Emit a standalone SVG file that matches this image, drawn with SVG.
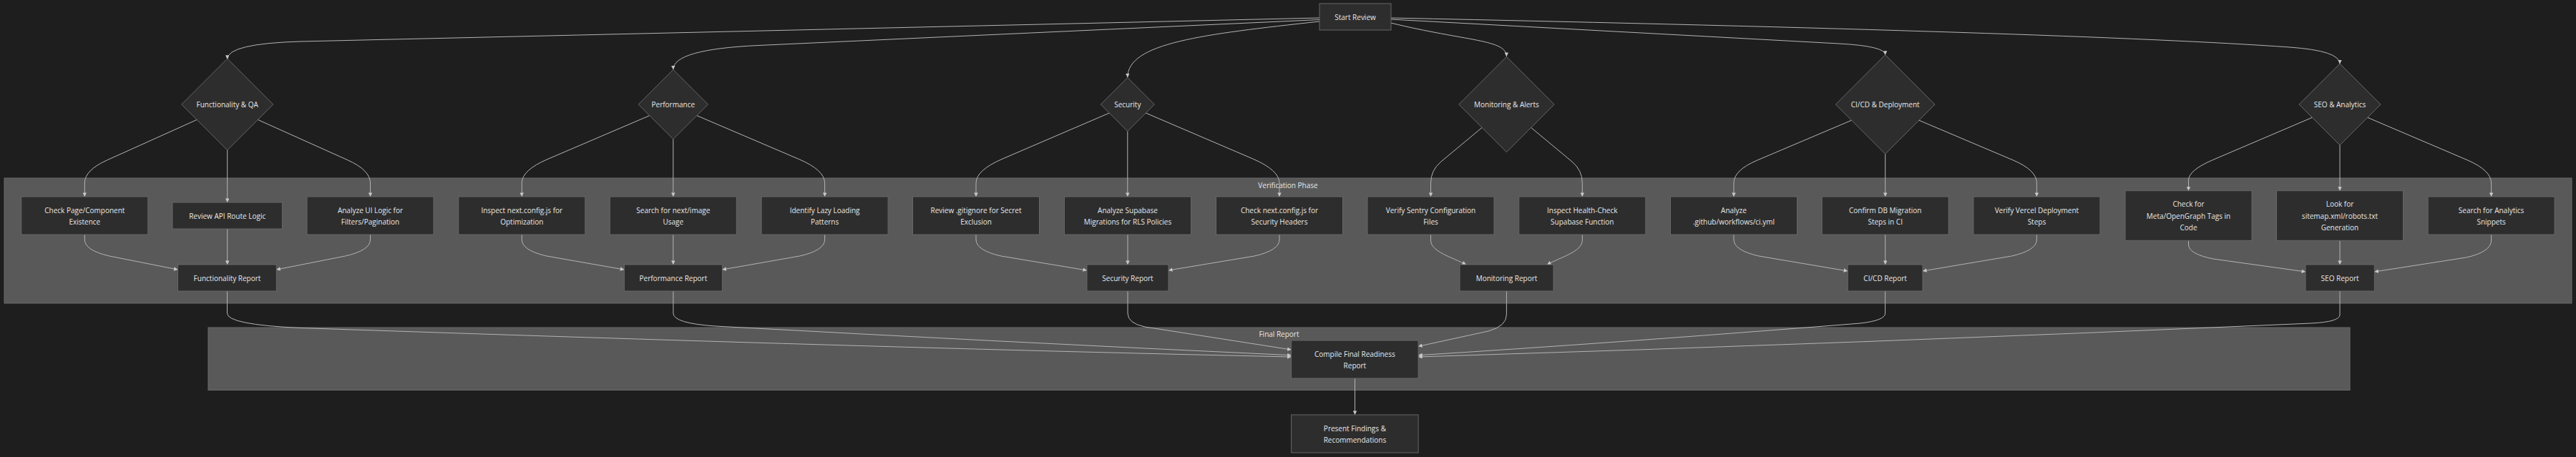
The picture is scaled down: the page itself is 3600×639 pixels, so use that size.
<svg xmlns="http://www.w3.org/2000/svg" width="3600" height="639" viewBox="0 0 3600 639">
<defs>
<marker id="arr" viewBox="0 0 10 10" refX="10" refY="5" markerUnits="userSpaceOnUse" markerWidth="6" markerHeight="5.5" orient="auto">
<path d="M0,0 L10,5 L0,10 z" fill="#c8c8c8"/>
</marker>
<style>
.bg{fill:#1e1e1e}
.cluster rect{fill:#595959;stroke:#6a6a6a;stroke-width:1}
.node rect,.node polygon{fill:#2d2d2d;stroke:#676767;stroke-width:1}
text{font-family:"Open Sans","Liberation Sans",sans-serif;font-size:10px;fill:#e8e8e8;text-anchor:middle;dominant-baseline:central}
.edges path{fill:none;stroke:#b4b4b4;stroke-width:1;marker-end:url(#arr)}
</style>
</defs>
<rect class="bg" x="0" y="0" width="3600" height="639"/>
<g id="cluster-verification" class="cluster"><rect x="6" y="249" width="3588" height="175"/><text x="1800" y="258.5">Verification Phase</text></g>
<g id="cluster-final" class="cluster"><rect x="291" y="458" width="2993" height="87.5"/><text x="1787.5" y="467">Final Report</text></g>

<g class="edges" id="connectors">
<path d="M1844,25 L420,58 Q317.7,61 317.7,82.7"/>
<path d="M1844,27.5 L1060,63.5 Q940.8,69 940.8,97.3"/>
<path d="M1844,30 C1680,48 1575.8,60 1575.8,108.3"/>
<path d="M1943.5,32 C2050,58 2105.4,55 2105.4,79"/>
<path d="M1943.5,27 L2570,61 Q2634.7,64.5 2634.7,76.7"/>
<path d="M1943.5,25 Q2900,45 3200,66 Q3270,71 3270,89.3"/>

<path d="M275.1,167.4 L149.7,223.9 Q118.3,238 118.3,256 L118.3,275"/>
<path d="M317.7,210 L317.7,283"/>
<path d="M360.4,167.4 L486.1,223.9 Q517.5,238 517.5,256 L517.5,275"/>
<path d="M907.8,161.6 L765,222.7 Q729.3,238 729.3,256 L729.3,275"/>
<path d="M940.8,194.6 L940.8,275"/>
<path d="M973.8,161.6 L1116.8,222.7 Q1152.6,238 1152.6,256 L1152.6,275"/>
<path d="M1550.3,158 L1401.3,222 Q1364,238 1364,256 L1364,275"/>
<path d="M1575.8,183.5 L1575.8,275"/>
<path d="M1601.3,158 L1750.7,222 Q1788,238 1788,256 L1788,275"/>
<path d="M2071.1,178.4 L2013.8,226.1 Q1999.5,238 1999.5,256 L1999.5,275"/>
<path d="M2139.7,178.4 L2197,226.1 Q2211.3,238 2211.3,256 L2211.3,275"/>
<path d="M2587.6,168.2 L2455.9,224 Q2423,238 2423,256 L2423,275"/>
<path d="M2634.7,215.3 L2634.7,275"/>
<path d="M2681.8,168.2 L2813.5,224 Q2846.4,238 2846.4,256 L2846.4,275"/>
<path d="M3231.3,164.3 L3093.1,223.3 Q3058.5,238 3058.5,252 L3058.5,266.7"/>
<path d="M3270,203 L3270,266.7"/>
<path d="M3308.7,164.3 L3447,223.3 Q3481.6,238 3481.6,256 L3481.6,275"/>

<path d="M118.3,328 L118.3,335 Q118.3,350 153,358 L248.6,377"/>
<path d="M317.7,320 L317.7,370"/>
<path d="M517.5,328 L517.5,335 Q517.5,350 482.5,358 L386.3,377"/>
<path d="M729.3,328 L729.3,335 Q729.3,350 764,358 L872.4,377"/>
<path d="M940.8,328 L940.8,370"/>
<path d="M1152.6,328 L1152.6,335 Q1152.6,350 1117.6,358 L1009.4,377"/>
<path d="M1364,328 L1364,335 Q1364,350 1399,358 L1519,378"/>
<path d="M1576,328 L1576,370"/>
<path d="M1788,328 L1788,335 Q1788,350 1753,358 L1633,378"/>
<path d="M1999.5,328 L1999.5,336 C1999.5,352 2030,360 2049,370"/>
<path d="M2211.3,328 L2211.3,336 C2211.3,352 2180,360 2162,370"/>
<path d="M2423,328 L2423,335 Q2423,350 2458,358 L2582.2,379"/>
<path d="M2634.7,328 L2634.7,370"/>
<path d="M2846.4,328 L2846.4,335 Q2846.4,350 2811.4,358 L2687,379"/>
<path d="M3058.5,336.3 L3058.5,342 Q3058.5,355 3093,362 L3222,380"/>
<path d="M3270,336.3 L3270,370"/>
<path d="M3481.6,328 L3481.6,336 Q3481.6,352 3446.6,360 L3318.3,380"/>

<path d="M317.5,407 L317.5,438 Q317.5,454 420,458.5 Q1250,487 1804.6,499"/>
<path d="M940.9,407 L940.9,438 Q940.9,452 1000,456 Q1400,478 1804.6,496.7"/>
<path d="M1576,407 L1576,438 Q1576,452 1600,457 L1804.6,489"/>
<path d="M2105.4,407 L2105.4,440 Q2105.4,456 2080,463 L1982.1,484.3"/>
<path d="M2634.6,407 L2634.6,438 Q2634.6,448 2600,452 Q2250,480 1982.1,496.7"/>
<path d="M3270,407 L3270,440 Q3270,450 3230,452 Q2600,480 1982.1,499"/>
<path d="M1893.5,529 L1893.5,580"/>
</g>

<g id="start" class="node"><rect x="1844" y="5" width="100" height="37"/><text x="1894" y="23.5">Start Review</text></g>

<g id="d-func" class="node"><polygon points="317.7,82 381.7,146 317.7,210 253.7,146"/><text x="317.7" y="146">Functionality &amp; QA</text></g>
<g id="d-perf" class="node"><polygon points="940.8,97.4 989.4,146 940.8,194.6 892.2,146"/><text x="940.8" y="146">Performance</text></g>
<g id="d-sec" class="node"><polygon points="1575.8,108.5 1613.3,146 1575.8,183.5 1538.3,146"/><text x="1575.8" y="146">Security</text></g>
<g id="d-mon" class="node"><polygon points="2105.4,79.3 2172.1,146 2105.4,212.7 2038.7,146"/><text x="2105.4" y="146">Monitoring &amp; Alerts</text></g>
<g id="d-cicd" class="node"><polygon points="2634.7,76.7 2704,146 2634.7,215.3 2565.4,146"/><text x="2634.7" y="146">CI/CD &amp; Deployment</text></g>
<g id="d-seo" class="node"><polygon points="3270,89 3327,146 3270,203 3213,146"/><text x="3270" y="146">SEO &amp; Analytics</text></g>

<g id="n-checkpage" class="node"><rect x="29.8" y="275" width="177" height="53"/><text x="118.3" y="294">Check Page/Component</text><text x="118.3" y="310">Existence</text></g>
<g id="n-reviewapi" class="node"><rect x="241" y="283" width="153.4" height="37"/><text x="317.7" y="302">Review API Route Logic</text></g>
<g id="n-analyzeui" class="node"><rect x="429" y="275" width="177" height="53"/><text x="517.5" y="294">Analyze UI Logic for</text><text x="517.5" y="310">Filters/Pagination</text></g>
<g id="n-inspectnext" class="node"><rect x="640.8" y="275" width="177" height="53"/><text x="729.3" y="294">Inspect next.config.js for</text><text x="729.3" y="310">Optimization</text></g>
<g id="n-nextimage" class="node"><rect x="852.3" y="275" width="177" height="53"/><text x="940.8" y="294">Search for next/image</text><text x="940.8" y="310">Usage</text></g>
<g id="n-lazy" class="node"><rect x="1064.1" y="275" width="177" height="53"/><text x="1152.6" y="294">Identify Lazy Loading</text><text x="1152.6" y="310">Patterns</text></g>
<g id="n-gitignore" class="node"><rect x="1275.5" y="275" width="177" height="53"/><text x="1364" y="294">Review .gitignore for Secret</text><text x="1364" y="310">Exclusion</text></g>
<g id="n-supabase" class="node"><rect x="1487.5" y="275" width="177" height="53"/><text x="1576" y="294">Analyze Supabase</text><text x="1576" y="310">Migrations for RLS Policies</text></g>
<g id="n-headers" class="node"><rect x="1699.5" y="275" width="177" height="53"/><text x="1788" y="294">Check next.config.js for</text><text x="1788" y="310">Security Headers</text></g>
<g id="n-sentry" class="node"><rect x="1911" y="275" width="177" height="53"/><text x="1999.5" y="294">Verify Sentry Configuration</text><text x="1999.5" y="310">Files</text></g>
<g id="n-health" class="node"><rect x="2122.8" y="275" width="177" height="53"/><text x="2211.3" y="294">Inspect Health-Check</text><text x="2211.3" y="310">Supabase Function</text></g>
<g id="n-ciyml" class="node"><rect x="2334.5" y="275" width="177" height="53"/><text x="2423" y="294">Analyze</text><text x="2423" y="310">.github/workflows/ci.yml</text></g>
<g id="n-dbmig" class="node"><rect x="2546.2" y="275" width="177" height="53"/><text x="2634.7" y="294">Confirm DB Migration</text><text x="2634.7" y="310">Steps in CI</text></g>
<g id="n-vercel" class="node"><rect x="2757.9" y="275" width="177" height="53"/><text x="2846.4" y="294">Verify Vercel Deployment</text><text x="2846.4" y="310">Steps</text></g>
<g id="n-meta" class="node"><rect x="2970" y="266.7" width="177" height="69.6"/><text x="3058.5" y="285">Check for</text><text x="3058.5" y="301.5">Meta/OpenGraph Tags in</text><text x="3058.5" y="318">Code</text></g>
<g id="n-sitemap" class="node"><rect x="3181.5" y="266.7" width="177" height="69.6"/><text x="3270" y="285">Look for</text><text x="3270" y="301.5">sitemap.xml/robots.txt</text><text x="3270" y="318">Generation</text></g>
<g id="n-analytics" class="node"><rect x="3393.1" y="275" width="177" height="53"/><text x="3481.6" y="294">Search for Analytics</text><text x="3481.6" y="310">Snippets</text></g>

<g id="r-func" class="node"><rect x="248.6" y="370" width="137.7" height="37"/><text x="317.5" y="388.5">Functionality Report</text></g>
<g id="r-perf" class="node"><rect x="872.4" y="370" width="137" height="37"/><text x="940.9" y="388.5">Performance Report</text></g>
<g id="r-sec" class="node"><rect x="1519" y="370" width="114" height="37"/><text x="1576" y="388.5">Security Report</text></g>
<g id="r-mon" class="node"><rect x="2040" y="370" width="131" height="37"/><text x="2105.5" y="388.5">Monitoring Report</text></g>
<g id="r-cicd" class="node"><rect x="2582.2" y="370" width="104.8" height="37"/><text x="2634.6" y="388.5">CI/CD Report</text></g>
<g id="r-seo" class="node"><rect x="3222" y="370" width="96.3" height="37"/><text x="3270.1" y="388.5">SEO Report</text></g>

<g id="compile" class="node"><rect x="1804.6" y="476" width="177.5" height="53"/><text x="1893.4" y="494.5">Compile Final Readiness</text><text x="1893.4" y="510.5">Report</text></g>
<g id="present" class="node"><rect x="1804.6" y="580" width="177.5" height="53"/><text x="1893.4" y="598.5">Present Findings &amp;</text><text x="1893.4" y="614.5">Recommendations</text></g>
</svg>
